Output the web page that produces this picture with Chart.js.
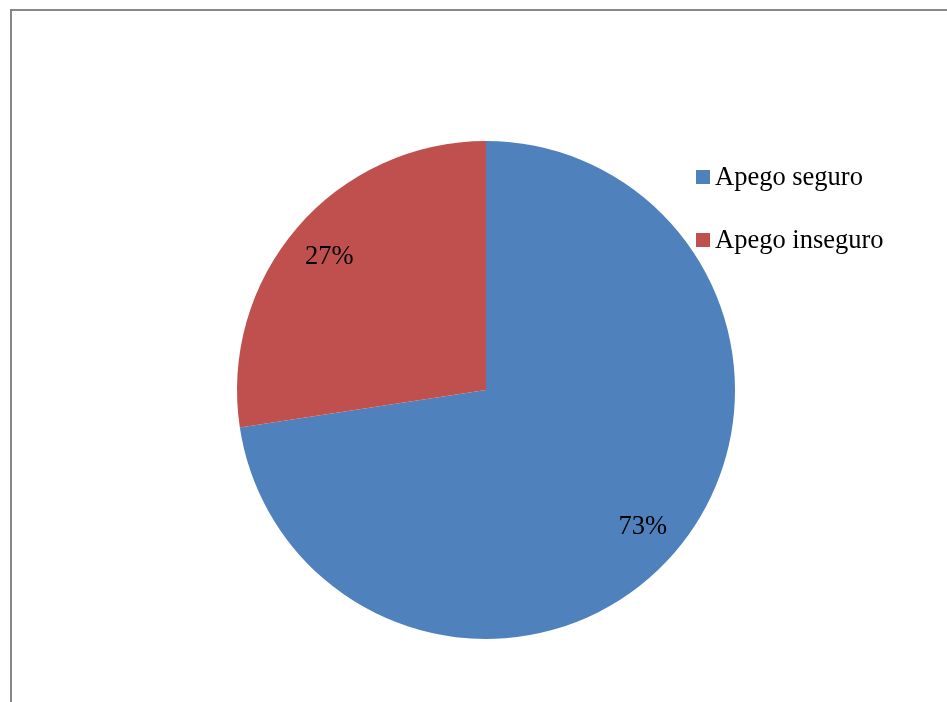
<!DOCTYPE html>
<html>
<head>
<meta charset="utf-8">
<script src="https://cdn.jsdelivr.net/npm/chart.js@4"></script>
<style>
html,body{margin:0;padding:0;background:#fff;}
#wrap{position:relative;width:947px;height:702px;}
</style>
</head>
<body>
<div id="wrap"><canvas id="c" width="947" height="702"></canvas></div>
<script>
const categories = ["Apego seguro", "Apego inseguro"];
const values = [72.6, 27.4];
const pctLabels = ["73%", "27%"];
const colors = ["#4F81BD", "#C0504D"];

const FONT = "'Liberation Serif', 'Times New Roman', serif";

const framePlugin = {
  id: 'frame',
  beforeDraw(chart) {
    const ctx = chart.ctx;
    ctx.save();
    ctx.strokeStyle = '#878787';
    ctx.lineWidth = 2;
    ctx.beginPath();
    ctx.moveTo(11, 702);
    ctx.lineTo(11, 10);
    ctx.lineTo(947, 10);
    ctx.stroke();
    ctx.restore();
  }
};

const labelPlugin = {
  id: 'sliceLabels',
  afterDatasetsDraw(chart) {
    const ctx = chart.ctx;
    const meta = chart.getDatasetMeta(0);
    ctx.save();
    ctx.fillStyle = '#000';
    ctx.font = "26.5px " + FONT;
    ctx.textAlign = 'center';
    ctx.textBaseline = 'middle';
    meta.data.forEach((arc, i) => {
      const p = arc.getProps(['x','y','startAngle','endAngle','outerRadius'], true);
      const mid = (p.startAngle + p.endAngle) / 2;
      const r = p.outerRadius * 0.83;
      ctx.fillText(pctLabels[i], p.x + Math.cos(mid) * r, p.y + Math.sin(mid) * r + 2);
    });
    // legend
    ctx.textAlign = 'left';
    ctx.textBaseline = 'middle';
    categories.forEach((name, i) => {
      const y = 177 + i * 63;
      ctx.fillStyle = colors[i];
      ctx.fillRect(696, y - 7, 14, 14);
      ctx.fillStyle = '#000';
      ctx.fillText(name, 715, y + 1);
    });
    ctx.restore();
  }
};

new Chart(document.getElementById('c'), {
  type: 'pie',
  data: {
    labels: categories,
    datasets: [{
      data: values,
      backgroundColor: colors,
      borderWidth: 0
    }]
  },
  options: {
    responsive: false,
    animation: false,
    layout: { padding: { left: 237, right: 212, top: 141, bottom: 63 } },
    plugins: {
      legend: { display: false },
      tooltip: { enabled: false }
    }
  },
  plugins: [framePlugin, labelPlugin]
});
</script>
</body>
</html>
